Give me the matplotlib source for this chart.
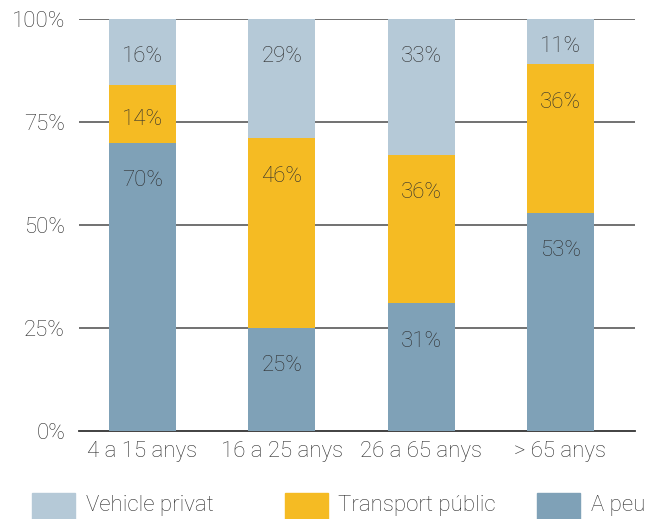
import matplotlib.pyplot as plt
import numpy as np
from matplotlib.patches import Rectangle

# ------------------------------------------------------------------
# data
# ------------------------------------------------------------------
categories = ["4 a 15 anys", "16 a 25 anys", "26 a 65 anys", "> 65 anys"]
a_peu      = [70, 25, 31, 53]
transport  = [14, 46, 36, 36]
vehicle    = [16, 29, 33, 11]
yticks     = [0, 25, 50, 75, 100]

series = [
    ("A peu",            a_peu,     "#7fa1b7"),
    ("Transport públic", transport, "#f5bb23"),
    ("Vehicle privat",   vehicle,   "#b5c9d7"),
]

plt.rcParams["font.family"] = ["Roboto", "DejaVu Sans"]
TEXT = "#2e2e2e"
FS = 16
W, H = 645, 519


def main():
    fig = plt.figure(figsize=(W / 100, H / 100), dpi=100)
    ax = fig.add_axes([79 / W, 1 - 431 / H, 556 / W, 412 / H])

    xs = np.arange(len(categories))
    bottom = np.zeros(len(categories))
    colors = {}
    for name, vals, color in series:
        vals = np.array(vals, dtype=float)
        ax.bar(xs, vals, bottom=bottom, width=0.48, color=color, zorder=3)
        colors[name] = color
        top = bottom + vals
        for x, v, t in zip(xs, vals, top):
            y = t - min(9.2, v * 0.6)
            ax.text(x, y, f"{int(v)}%", ha="center", va="center",
                    fontsize=FS, color=TEXT, fontweight="light", zorder=4)
        bottom = top

    ax.set_xlim(-0.456, 3.535)
    ax.set_ylim(0, 100)
    ax.set_yticks(yticks)
    ax.set_yticklabels([f"{t}%" for t in yticks])
    ax.set_xticks(xs)
    ax.set_xticklabels(categories)
    ax.tick_params(length=0, labelsize=FS, colors=TEXT)
    ax.tick_params(axis="y", pad=10)
    ax.tick_params(axis="x", pad=7)
    for lbl in ax.get_xticklabels() + ax.get_yticklabels():
        lbl.set_fontweight("light")

    for t in yticks[1:]:
        ax.axhline(t, color="#666666", linewidth=1.3, zorder=1)
    for side in ["top", "right", "left"]:
        ax.spines[side].set_visible(False)
    ax.spines["bottom"].set_color("#333333")
    ax.spines["bottom"].set_linewidth(1.3)

    # legend, fixed-width columns like the original
    order = ["Vehicle privat", "Transport públic", "A peu"]
    for i, name in enumerate(order):
        x0 = (32 + i * 252.5) / W
        fig.patches.append(Rectangle((x0, 0), 43 / W, 26 / H,
                                     transform=fig.transFigure,
                                     color=colors[name]))
        fig.text(x0 + 54 / W, 13 / H, name, ha="left", va="center",
                 fontsize=FS, color=TEXT, fontweight="light")

    fig.savefig("out.png", dpi=100)
    plt.close(fig)


if __name__ == "__main__":
    main()
